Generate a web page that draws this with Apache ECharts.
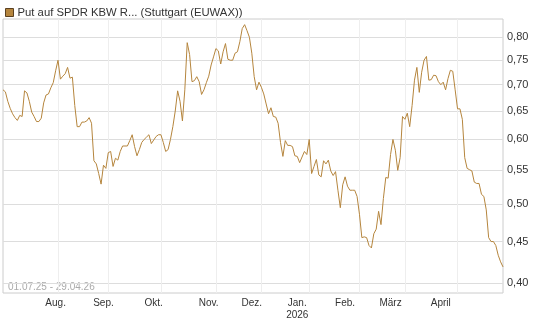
<!DOCTYPE html>
<html>
<head>
<meta charset="utf-8">
<script src="https://cdn.jsdelivr.net/npm/echarts@6/dist/echarts.min.js"></script>
<style>html,body{margin:0;padding:0;background:#fff;}#c{width:545px;height:327px;}</style>
</head>
<body>
<div id="c"></div>
<script>
// ---- data (one value per trading day) ----
const seriesName = 'Put auf SPDR KBW R... (Stuttgart (EUWAX))';
const dateRange = '01.07.25 - 29.04.26';
const monthNames = ['Jul.', 'Aug.', 'Sep.', 'Okt.', 'Nov.', 'Dez.', 'Jan.\n2026', 'Feb.', 'März', 'April'];
const jul = [0.690,0.686,0.668,0.655,0.645,0.638,0.633,0.642,0.640,0.688,0.684,0.668,0.648,0.640,0.631,0.631,0.637,0.665,0.680,0.682,0.694,0.704,0.728];
const aug = [0.750,0.711,0.717,0.722,0.735,0.713,0.715,0.660,0.622,0.622,0.630,0.630,0.632,0.638,0.628,0.565,0.560,0.545,0.529,0.558,0.553];
const sep = [0.578,0.580,0.556,0.569,0.566,0.580,0.589,0.589,0.589,0.598,0.608,0.588,0.573,0.583,0.595,0.600,0.604,0.608,0.593,0.599,0.605,0.608];
const okt = [0.608,0.595,0.580,0.583,0.600,0.622,0.650,0.688,0.668,0.632,0.690,0.788,0.762,0.706,0.708,0.716,0.706,0.681,0.690,0.704,0.717,0.740,0.757];
const nov = [0.775,0.770,0.742,0.768,0.786,0.752,0.750,0.750,0.765,0.768,0.790,0.820,0.829,0.815,0.800,0.765,0.716,0.690,0.705];
const dez = [0.695,0.682,0.663,0.645,0.656,0.640,0.639,0.628,0.595,0.572,0.598,0.590,0.590,0.588,0.573,0.572,0.562,0.571,0.580,0.575];
const jan = [0.600,0.545,0.556,0.567,0.543,0.540,0.565,0.560,0.566,0.549,0.542,0.548,0.520,0.495,0.528,0.540,0.526,0.520,0.520,0.520,0.511];
const feb = [0.486,0.455,0.456,0.455,0.445,0.442,0.460,0.466,0.490,0.472,0.508,0.539,0.538,0.575,0.600,0.582,0.550,0.570,0.640];
const mar = [0.635,0.646,0.622,0.660,0.709,0.735,0.685,0.725,0.750,0.758,0.709,0.710,0.719,0.718,0.706,0.700,0.705,0.690,0.712,0.729,0.727,0.690];
const apr = [0.654,0.654,0.635,0.570,0.553,0.551,0.549,0.532,0.530,0.530,0.514,0.511,0.492,0.455,0.450,0.450,0.445,0.433,0.425,0.419];
const yTicks = [0.40,0.45,0.50,0.55,0.60,0.65,0.70,0.75,0.80];

// ---- build categories / series ----
const months = [jul, aug, sep, okt, nov, dez, jan, feb, mar, apr];
const categories = [];
const values = [];
const monthStarts = [];
months.forEach((arr, m) => {
  monthStarts.push(categories.length);
  arr.forEach((v, d) => { categories.push(m + '-' + d); values.push(v); });
});
const startSet = new Set(monthStarts.slice(1));
// label anchors (reference places month labels slightly left of their gridlines)
const labelScale = 0.962;
const labelMap = {};
monthStarts.slice(1).forEach((s, k) => { labelMap[Math.round(s * labelScale)] = monthNames[k + 1]; });

const FONT = '"Liberation Sans", Arial, sans-serif';
const chart = echarts.init(document.getElementById('c'), null, {renderer: 'canvas'});
chart.setOption({
  animation: false,
  textStyle: {fontFamily: FONT},
  legend: {
    left: 0, top: 2, itemWidth: 8, itemHeight: 8, itemGap: 4,
    icon: 'rect',
    itemStyle: {borderColor: '#5a4020', borderWidth: 1},
    textStyle: {fontSize: 11.3, color: '#333', fontFamily: FONT, padding: [0, 0, 0, -1]},
    data: [seriesName]
  },
  grid: {left: 3, right: 42, top: 19, bottom: 34, show: true, borderColor: '#ccc', borderWidth: 1, backgroundColor: 'transparent'},
  graphic: [{
    type: 'text', left: 8, top: 282,
    style: {text: dateRange, fill: '#aaa', font: '10px ' + FONT}
  }],
  xAxis: {
    type: 'category', data: categories, boundaryGap: false,
    axisLine: {show: false}, axisTick: {show: false},
    splitLine: {show: true, interval: (i) => startSet.has(i), lineStyle: {color: '#eee', width: 1}},
    axisLabel: {
      interval: (i) => labelMap[i] !== undefined,
      formatter: (v, i) => labelMap[i] || '',
      fontSize: 10, color: '#333', margin: 4, lineHeight: 12, fontFamily: FONT
    }
  },
  yAxis: {
    type: 'log', logBase: 10, position: 'right',
    min: 0.3893, max: 0.8423,
    axisLine: {show: false},
    axisTick: {show: false, customValues: yTicks},
    splitLine: {show: true, lineStyle: {color: '#ddd', width: 1}},
    axisLabel: {
      customValues: yTicks,
      formatter: (v) => Number(v).toFixed(2).replace('.', ','),
      fontSize: 11, color: '#333', margin: 4, fontFamily: FONT
    }
  },
  series: [{
    name: seriesName, type: 'line', data: values, showSymbol: false,
    itemStyle: {color: '#b5853d'},
    lineStyle: {color: '#b5853d', width: 1}
  }]
});
</script>
</body>
</html>
